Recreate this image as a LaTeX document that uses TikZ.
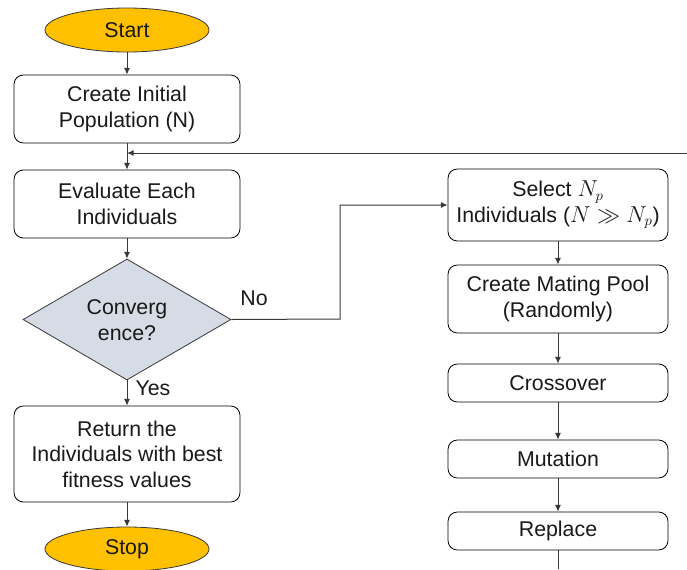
\documentclass[tikz,border=0pt]{standalone}
\usepackage{fontspec}
\setmainfont{Liberation Sans}
\usetikzlibrary{shapes.geometric,arrows.meta}
\definecolor{gold}{HTML}{FFC000}
\definecolor{decfill}{HTML}{D6DCE5}
\definecolor{edge}{HTML}{383838}
\begin{document}
\begin{tikzpicture}[x=0.75pt,y=-0.75pt,
  every node/.style={font=\fontsize{16}{19.2}\selectfont, text=black!90, align=center, inner sep=0pt},
  terminal/.style={ellipse, draw=edge, fill=gold, line width=0.6pt, minimum width=164*0.75pt, minimum height=44*0.75pt},
  stepbox/.style={rectangle, rounded corners=7pt, draw=black, line width=0.6pt, minimum width=226*0.75pt},
  rbox/.style={rectangle, rounded corners=7pt, draw=black, line width=0.6pt, minimum width=220*0.75pt},
  decision/.style={diamond, draw=edge, fill=decfill, line width=0.6pt, aspect=1.72, minimum width=208*0.75pt, minimum height=121*0.75pt},
  flow/.style={draw=edge, line width=0.75pt, -{Latex[length=5pt,width=4.5pt]}},
  plain/.style={draw=edge, line width=0.75pt}]
\useasboundingbox (0,0) rectangle (687,569);

% left column
\node[terminal] (start) at (127,30) {Start};
\node[stepbox, minimum height=68*0.75pt] (init) at (127,109) {Create Initial\\Population (N)};
\node[stepbox, minimum height=68*0.75pt] (eval) at (127,204) {Evaluate Each\\Individuals};
\node[decision] (conv) at (127,319.5) {};
\node at (127,320) {Converg\\ence?};
\node[stepbox, minimum height=96*0.75pt] (ret) at (127,454) {Return the\\Individuals with best\\fitness values};
\node[terminal] (stop) at (127,549) {Stop};

% right column
\node[rbox, minimum height=72*0.75pt] (sel) at (558,205) {Select $N_p$\\Individuals ($N \gg N_p$)};
\node[rbox, minimum height=68*0.75pt] (pool) at (558,299) {Create Mating Pool\\(Randomly)};
\node[rbox, minimum height=38*0.75pt] (cross) at (558,383) {Crossover};
\node[rbox, minimum height=38*0.75pt] (mut) at (558,459) {Mutation};
\node[rbox, minimum height=38*0.75pt] (rep) at (558,531) {Replace};

% connectors
\coordinate (merge) at (127,153);
\coordinate (loopin) at (687,153);
\coordinate (bend) at (340,319);
\coordinate (loopout) at (558,569);

\draw[flow] (start) -- (init);
\draw[plain] (init) -- (merge);
\draw[flow] (merge) -- (eval);
\draw[flow] (loopin) -- (merge);
\draw[flow] (eval) -- (conv);
\draw[flow] (conv) -- node[pos=0.3, right=6pt] {Yes} (ret);
\draw[flow] (ret) -- (stop);
\draw[flow] (conv.east) -- (bend) |- (sel.west);
\node at (254,298) {No};
\draw[flow] (sel) -- (pool);
\draw[flow] (pool) -- (cross);
\draw[flow] (cross) -- (mut);
\draw[flow] (mut) -- (rep);
\draw[plain] (rep) -- (loopout);
\end{tikzpicture}
\end{document}
